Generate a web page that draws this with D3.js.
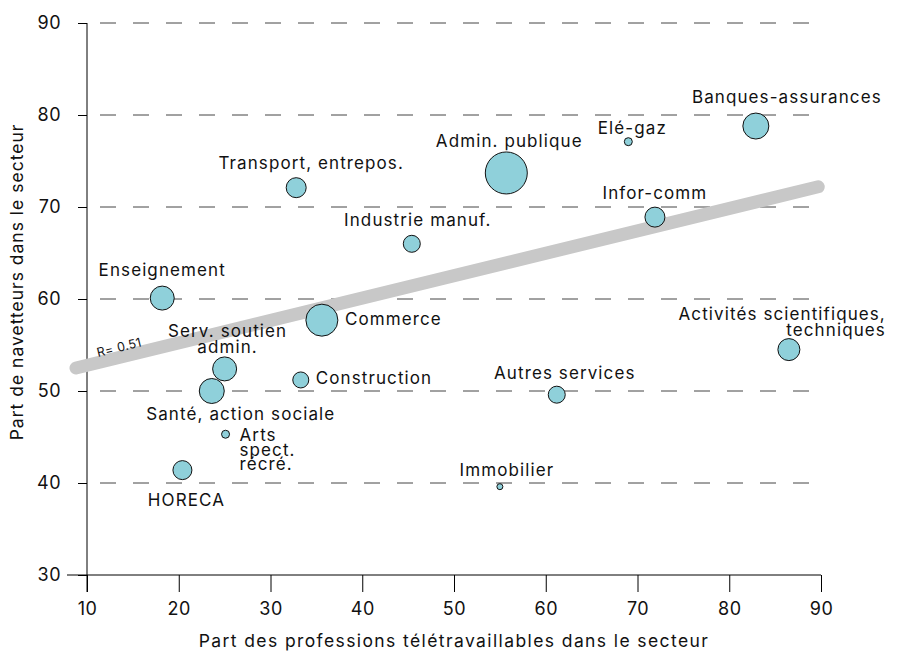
<!DOCTYPE html>
<html>
<head>
<meta charset="utf-8">
<script src="https://cdn.jsdelivr.net/npm/d3@7"></script>
<style>
  body { margin: 0; background: #fff; }
  svg { font-family: Inter, "Noto Sans", sans-serif; }
</style>
</head>
<body>
<div id="chart"></div>
<script>
// secteurs
const sectors = ["Enseignement", "Serv. soutien admin.", "Santé, action sociale", "Arts spect. récré.",
  "HORECA", "Construction", "Commerce", "Transport, entrepos.", "Industrie manuf.", "Admin. publique",
  "Elé-gaz", "Banques-assurances", "Infor-comm", "Activités scientifiques, techniques",
  "Autres services", "Immobilier"];
const teleworkShare = [18.2, 25.0, 23.6, 25.1, 20.4, 33.3, 35.6, 32.8, 45.4, 55.7, 69.0, 82.9, 71.9, 86.5, 61.2, 55.0];
const commuterShare = [60.1, 52.4, 50.0, 45.3, 41.4, 51.2, 57.7, 72.1, 66.0, 73.7, 77.1, 78.8, 68.9, 54.5, 49.6, 39.6];
const bubbleSize = [12, 12, 12.5, 4, 9.5, 8, 16, 10, 8.5, 21, 4, 13, 10, 11, 8.5, 3];

const xTicks = [10, 20, 30, 40, 50, 60, 70, 80, 90];
const yTicks = [30, 40, 50, 60, 70, 80, 90];
const gridTicks = [40, 50, 60, 70, 80, 90];
const trend = [[8.8, 52.5], [89.7, 72.2]];

// étiquettes: lignes, ancrage, décalage
const labels = [
  { i: 0, lines: ["Enseignement"], anchor: "middle", dx: 0, dy: -22 },
  { i: 1, lines: ["Serv. soutien", "admin."], anchor: "middle", dx: 3, dy: -32 },
  { i: 2, lines: ["Santé, action sociale"], anchor: "middle", dx: 29, dy: 29 },
  { i: 3, lines: ["Arts", "spect.", "récré."], anchor: "start", dx: 14, dy: 7 },
  { i: 4, lines: ["HORECA"], anchor: "middle", dx: 4, dy: 36 },
  { i: 5, lines: ["Construction"], anchor: "start", dx: 15, dy: 4 },
  { i: 6, lines: ["Commerce"], anchor: "start", dx: 23, dy: 5 },
  { i: 7, lines: ["Transport, entrepos."], anchor: "middle", dx: 15, dy: -19 },
  { i: 8, lines: ["Industrie manuf."], anchor: "middle", dx: 6, dy: -18 },
  { i: 9, lines: ["Admin. publique"], anchor: "middle", dx: 3, dy: -26 },
  { i: 10, lines: ["Elé-gaz"], anchor: "middle", dx: 4, dy: -8 },
  { i: 11, lines: ["Banques-assurances"], anchor: "middle", dx: 31, dy: -23 },
  { i: 12, lines: ["Infor-comm"], anchor: "middle", dx: 0, dy: -18 },
  { i: 13, lines: ["Activités scientifiques,", "techniques"], anchor: "end", dx: 97, dy: -30 },
  { i: 14, lines: ["Autres services"], anchor: "middle", dx: 8, dy: -16 },
  { i: 15, lines: ["Immobilier"], anchor: "middle", dx: 7, dy: -11 }
];

const width = 917, height = 655;
const svg = d3.select("#chart").append("svg")
  .attr("width", width)
  .attr("height", height);

const x = d3.scaleLinear().domain([10, 90]).range([87, 821]);
const y = d3.scaleLinear().domain([30, 90]).range([575, 23]);

// grille pointillée
svg.append("g").selectAll("line")
  .data(gridTicks)
  .enter().append("line")
  .attr("x1", 100)
  .attr("x2", x(90))
  .attr("y1", d => y(d))
  .attr("y2", d => y(d))
  .attr("stroke", "#444")
  .attr("stroke-width", 1)
  .attr("stroke-dasharray", "16,17");

// axe Y
const yAxis = svg.append("g")
  .attr("transform", `translate(${x(10)},0)`)
  .call(d3.axisLeft(y).tickValues(yTicks).tickSize(9).tickPadding(17));
yAxis.select(".domain").remove();
yAxis.append("line")
  .attr("x1", 0).attr("x2", 0)
  .attr("y1", y(90)).attr("y2", y(30) + 17)
  .attr("stroke", "#000");

// axe X
const xAxis = svg.append("g")
  .attr("transform", `translate(0,${y(30)})`)
  .call(d3.axisBottom(x).tickValues(xTicks).tickSize(17).tickPadding(10));
xAxis.select(".domain").remove();
xAxis.append("line")
  .attr("x1", 67).attr("x2", x(90))
  .attr("stroke", "#000");

svg.selectAll(".tick text")
  .attr("font-size", 18)
  .attr("letter-spacing", 0.5)
  .attr("fill", "#111")
  .attr("font-family", "Inter, sans-serif");
svg.selectAll(".tick line").attr("stroke", "#000");

// titres d'axes
svg.append("text")
  .attr("x", 454)
  .attr("y", 647)
  .attr("text-anchor", "middle")
  .attr("font-size", 17.5)
  .attr("letter-spacing", 1.4)
  .attr("fill", "#111")
  .text("Part des professions télétravaillables dans le secteur");

svg.append("text")
  .attr("transform", "translate(23,282) rotate(-90)")
  .attr("text-anchor", "middle")
  .attr("font-size", 17.5)
  .attr("letter-spacing", 1.0)
  .attr("fill", "#111")
  .text("Part de navetteurs dans le secteur");

// droite de régression
svg.append("line")
  .attr("x1", x(trend[0][0]))
  .attr("y1", y(trend[0][1]))
  .attr("x2", x(trend[1][0]))
  .attr("y2", y(trend[1][1]))
  .attr("stroke", "#c8c8c8")
  .attr("stroke-width", 13)
  .attr("stroke-linecap", "round");

const angle = Math.atan2(y(trend[1][1]) - y(trend[0][1]), x(trend[1][0]) - x(trend[0][0])) * 180 / Math.PI;
svg.append("text")
  .attr("transform", `translate(98,357) rotate(${angle})`)
  .attr("font-size", 12.5)
  .attr("letter-spacing", 0.3)
  .attr("fill", "#111")
  .text("R= 0.51");

// bulles
const points = sectors.map((s, i) => ({ name: s, x: teleworkShare[i], y: commuterShare[i], r: bubbleSize[i] }));
svg.append("g").selectAll("circle")
  .data(points)
  .enter().append("circle")
  .attr("cx", d => x(d.x))
  .attr("cy", d => y(d.y))
  .attr("r", d => d.r)
  .attr("fill", "#8fd0da")
  .attr("stroke", "#111")
  .attr("stroke-width", 1);

// étiquettes
const lab = svg.append("g").selectAll("text")
  .data(labels)
  .enter().append("text")
  .attr("x", d => x(points[d.i].x) + d.dx)
  .attr("y", d => y(points[d.i].y) + d.dy)
  .attr("text-anchor", d => d.anchor)
  .attr("font-size", 17)
  .attr("letter-spacing", 1.1)
  .attr("fill", "#111");
lab.each(function(d) {
  const t = d3.select(this);
  d.lines.forEach((l, k) => {
    t.append("tspan")
      .attr("x", x(points[d.i].x) + d.dx)
      .attr("dy", k === 0 ? 0 : (d.lines.length > 2 ? 14.5 : 16.5))
      .text(l);
  });
});
</script>
</body>
</html>
